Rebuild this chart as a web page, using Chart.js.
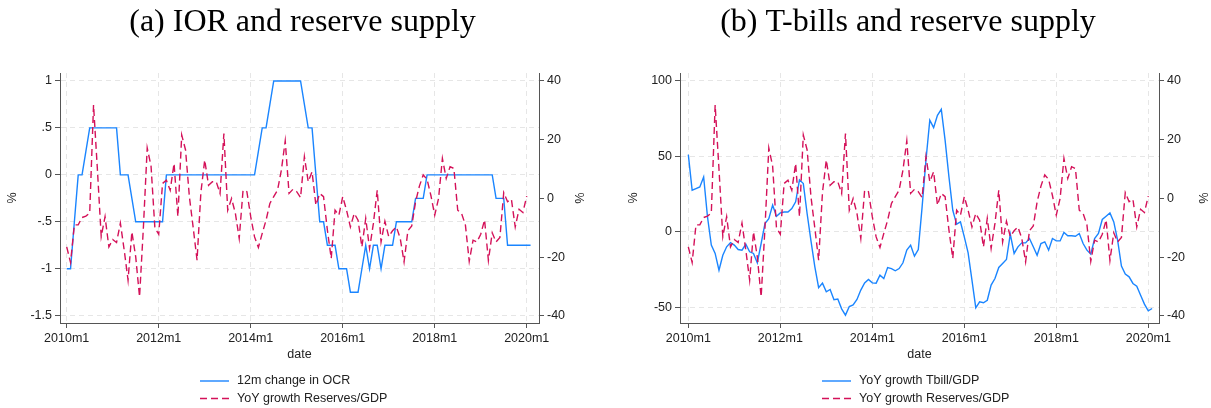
<!DOCTYPE html>
<html>
<head>
<meta charset="utf-8">
<script src="https://cdn.jsdelivr.net/npm/chart.js@4/dist/chart.umd.min.js"></script>
<style>
  html, body { margin: 0; padding: 0; background: #fff; }
  #wrap { position: relative; width: 1211px; height: 408px; }
  canvas { position: absolute; top: 0; }
  #g1 { left: 0; }
  #g2 { left: 605px; }
</style>
</head>
<body>
<div id="wrap">
  <canvas id="g1" width="605" height="408"></canvas>
  <canvas id="g2" width="606" height="408"></canvas>
</div>
<script>
// monthly, 2010m1 .. 2020m2
var dateTicks = [0, 24, 48, 72, 96, 120];
var dateLabels = ['2010m1', '2012m1', '2014m1', '2016m1', '2018m1', '2020m1'];

var ocrTicks = [1, 0.5, 0, -0.5, -1, -1.5];
var ocrLabels = ['1', '.5', '0', '-.5', '-1', '-1.5'];
var resTicks = [40, 20, 0, -20, -40];
var resLabels = ['40', '20', '0', '-20', '-40'];
var tbillTicks = [100, 50, 0, -50];
var tbillLabels = ['100', '50', '0', '-50'];

// 12m change in OCR (pp)
var ocrChange = [
  -1, -1, -0.5, 0, 0, 0.25, 0.5, 0.5, 0.5, 0.5,
  0.5, 0.5, 0.5, 0.5, 0, 0, 0, -0.25, -0.5, -0.5,
  -0.5, -0.5, -0.5, -0.5, -0.5, -0.5, 0, 0, 0, 0,
  0, 0, 0, 0, 0, 0, 0, 0, 0, 0,
  0, 0, 0, 0, 0, 0, 0, 0, 0, 0,
  0.25, 0.5, 0.5, 0.75, 1, 1, 1, 1, 1, 1,
  1, 1, 0.75, 0.5, 0.5, 0, -0.5, -0.5, -0.75, -0.75,
  -0.75, -1, -1, -1, -1.25, -1.25, -1.25, -1, -0.75, -1,
  -0.75, -0.75, -1, -0.75, -0.75, -0.75, -0.5, -0.5, -0.5, -0.5,
  -0.5, -0.25, -0.25, -0.25, 0, 0, 0, 0, 0, 0,
  0, 0, 0, 0, 0, 0, 0, 0, 0, 0,
  0, 0, -0.25, -0.25, -0.25, -0.75, -0.75, -0.75, -0.75, -0.75,
  -0.75, -0.75
];

// YoY growth Reserves/GDP (%)
var reservesGrowth = [
  -16.5, -21.8, -9, -9, -6.5, -6, -5, 31.8, 10, -13,
  -6.2, -16.5, -14, -15, -8.4, -17.6, -27.8, -11.4, -19.9, -33.5,
  -10, 17.2, 11, -10, -12.2, 5.1, 6.2, 2.8, 11.9, -6.2,
  21.6, 16.5, 0.6, -10, -21, 2, 13.1, 4.5, 5.7, 5.7,
  1.7, 22.1, -4, 0, -5.1, -13.6, 2.8, 2.3, -6.2, -13.1,
  -16.7, -11.9, -7.4, -1.7, 0.6, 2.8, 9.7, 19.6, 1.7, 3.1,
  2.3, 0.3, 14.2, 5.7, 9.1, -2.3, 1.7, 0.6, -10.8, -20.4,
  -4, -5.7, 0.6, -4, -9.7, -5.1, -7.4, -16.5, -6.8, -17,
  -8.5, 2.8, -14.8, -7.8, -13, -11, -9.7, -13.6, -21.6, -11,
  -9.4, -1.2, 4.2, 8, 6.5, 1, -5.7, 0, 13.6, 6.8,
  10.8, 10.2, -4, -5.1, -9, -21.4, -14.2, -14.8, -12.2, -7.3,
  -21.1, -11.7, -14.8, -13.3, 2, -1.1, -0.3, -9.7, -3.7, -4.8,
  0.8
];

// YoY growth Tbill/GDP (%)
var tbillGrowth = [
  51.2, 27.6, 28.7, 29.8, 36.4, 10, -8.8, -14.3, -25.4, -15.5,
  -9.9, -7.1, -8.8, -11.7, -12.1, -8.2, -13.2, -14.3, -20.5, -7.7,
  5.5, 8.8, 17.7, 10.4, 12.6, 13.2, 13.2, 15.5, 19.9, 34.5,
  32, 12, -6, -23, -37, -34, -39.7, -38.2, -45, -44.5,
  -51, -55.2, -49.5, -48.4, -44.8, -38.6, -33.8, -31.5, -33.8, -34,
  -28.7, -31, -23.6, -24.3, -25.8, -24.3, -20.5, -12.1, -8.8, -16.1,
  -11.7, 16.6, 47.5, 74, 69.1, 77.3, 81.2, 60.7, 36.4, 14.3,
  5.1, 6.6, -3.3, -13.9, -32, -50.3, -46.4, -47, -45.3, -35.3,
  -30.9, -23.6, -21, -18.3, -1.5, -14.3, -9.9, -7.3, -7.3, -4.4,
  -9.9, -15.5, -7.7, -6.6, -12.1, -4.4, -6, -6, -0.4, -2.6,
  -2.6, -2.9, -1.1, -7.7, -12.1, -14.8, -4.4, -1.1, 8.2, 10.4,
  12.6, 6.6, -5.5, -22.7, -28, -29.8, -34.2, -36, -42, -47.9,
  -52.3, -50.8
];

var blue = '#1a85ff';
var pink = '#d41159';
var axisColor = '#555555';
var gridColor = '#e6e6e6';

Chart.defaults.font.family = '"Liberation Sans", Arial, sans-serif';
Chart.defaults.font.size = 12.5;
Chart.defaults.color = '#222222';

function toPoints(arr) {
  return arr.map(function (v, i) { return { x: i, y: v }; });
}

var stackedLegend = {
  id: 'stackedLegend',
  afterDraw: function (chart, args, opts) {
    var ctx = chart.ctx;
    ctx.save();
    ctx.font = '12.5px "Liberation Sans", Arial, sans-serif';
    ctx.textBaseline = 'middle';
    ctx.fillStyle = '#222222';
    chart.data.datasets.forEach(function (ds, i) {
      var y = opts.y + i * opts.rowGap;
      ctx.strokeStyle = ds.borderColor;
      ctx.lineWidth = ds.borderWidth;
      ctx.setLineDash(ds.borderDash || []);
      ctx.beginPath();
      ctx.moveTo(opts.x, y);
      ctx.lineTo(opts.x + opts.lineLen, y);
      ctx.stroke();
      ctx.fillText(ds.label, opts.x + opts.lineLen + 8, y);
    });
    ctx.restore();
  }
};

function yScale(pos, ticks, labels, min, max, width, titlePad, grid) {
  return {
    type: 'linear',
    position: pos,
    min: min,
    max: max,
    afterBuildTicks: function (axis) {
      axis.ticks = ticks.map(function (v) { return { value: v }; });
    },
    afterFit: function (axis) { axis.width = width; },
    ticks: {
      autoSkip: false,
      padding: 3,
      callback: function (v, i) { return labels[i]; }
    },
    grid: {
      drawOnChartArea: grid,
      color: gridColor,
      tickColor: axisColor,
      tickLength: 5
    },
    border: { color: axisColor, width: 1, dash: [5, 4] },
    title: { display: true, text: '%', padding: { top: titlePad, bottom: 0 } }
  };
}

function makePanel(id, p) {
  var ctx = document.getElementById(id).getContext('2d');
  return new Chart(ctx, {
    type: 'line',
    data: {
      datasets: [{
        label: p.leftLabel,
        data: toPoints(p.leftData),
        yAxisID: 'yL',
        borderColor: blue,
        borderWidth: 1.4,
        pointRadius: 0,
        tension: 0,
        order: 1
      }, {
        label: 'YoY growth Reserves/GDP',
        data: toPoints(reservesGrowth),
        yAxisID: 'yR',
        borderColor: pink,
        borderWidth: 1.4,
        borderDash: [7, 4],
        pointRadius: 0,
        tension: 0,
        order: 0
      }]
    },
    options: {
      responsive: false,
      animation: false,
      layout: { padding: 0 },
      plugins: {
        legend: { display: false },
        tooltip: { enabled: false },
        title: {
          display: true,
          text: p.title,
          color: '#000000',
          font: { family: '"Liberation Serif", "Times New Roman", serif', size: 32, weight: 'normal' },
          padding: { top: 3.5, bottom: 31.1 }
        },
        stackedLegend: { x: p.legendX, y: 381, rowGap: 17.5, lineLen: 29 }
      },
      scales: {
        x: {
          type: 'linear',
          min: p.xMin,
          max: p.xMax,
          afterBuildTicks: function (axis) {
            axis.ticks = dateTicks.map(function (v) { return { value: v }; });
          },
          afterFit: function (axis) { axis.height = 85; },
          ticks: {
            autoSkip: false,
            maxRotation: 0,
            padding: 3,
            callback: function (v, i) { return dateLabels[i]; }
          },
          grid: { color: gridColor, tickColor: axisColor, tickLength: 5 },
          border: { color: axisColor, width: 1, dash: [5, 4] },
          title: { display: true, text: 'date', padding: { top: 0, bottom: 45.5 } }
        },
        yL: yScale('left', p.leftTicks, p.leftTickLabels, p.leftMin, p.leftMax, p.leftWidth, p.leftTitlePad, true),
        yR: yScale('right', resTicks, resLabels, -42.4, 42.7, p.rightWidth, p.rightTitlePad, false)
      }
    },
    plugins: [stackedLegend]
  });
}

var chartA = makePanel('g1', {
  title: '(a) IOR and reserve supply',
  leftLabel: '12m change in OCR',
  leftData: ocrChange,
  leftTicks: ocrTicks,
  leftTickLabels: ocrLabels,
  leftMin: -1.578,
  leftMax: 1.085,
  xMin: -1.75,
  xMax: 123.2,
  leftWidth: 60,
  rightWidth: 66,
  leftTitlePad: 5.5,
  rightTitlePad: 19.5,
  legendX: 200
});

var chartB = makePanel('g2', {
  title: '(b) T-bills and reserve supply',
  leftLabel: 'YoY growth Tbill/GDP',
  leftData: tbillGrowth,
  leftTicks: tbillTicks,
  leftTickLabels: tbillLabels,
  leftMin: -60.4,
  leftMax: 105.3,
  xMin: -2.17,
  xMax: 122.8,
  leftWidth: 75,
  rightWidth: 52,
  leftTitlePad: 21.5,
  rightTitlePad: 1.5,
  legendX: 217
});
</script>
</body>
</html>
